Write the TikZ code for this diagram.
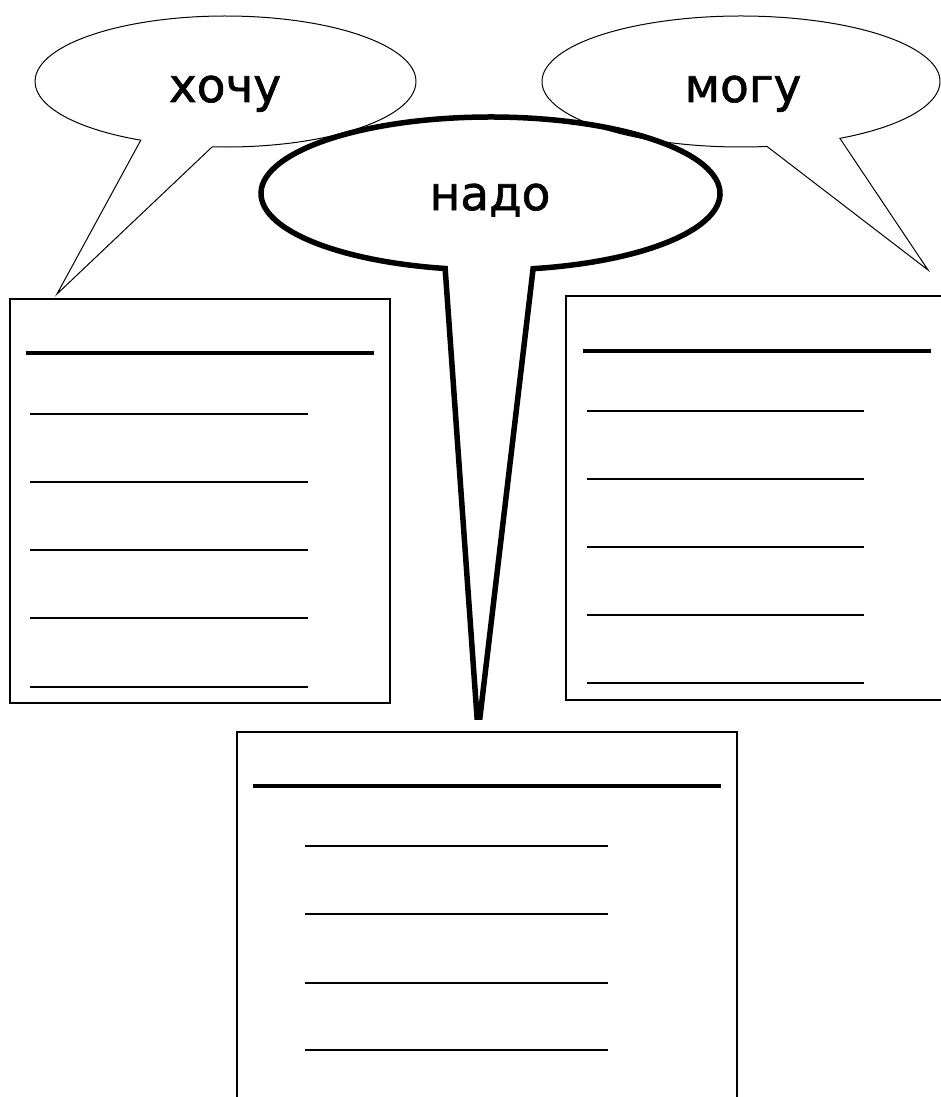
\documentclass[tikz,border=0pt]{standalone}
\usepackage{fontspec}
\newfontfamily\bubblefont[BoldFont={DejaVu Sans},BoldFeatures={FakeBold=1.3}]{DejaVu Sans}
\begin{document}
\begin{tikzpicture}[x=1pt,y=-1pt,
  thinbubble/.style={draw=black,line width=1pt,line join=miter},
  thickbubble/.style={draw=black,line width=5.5pt,line join=miter},
  boxline/.style={draw=black,line width=1.6pt},
  headrule/.style={draw=black,line width=4pt},
  writeline/.style={draw=black,line width=1.1pt},
  word/.style={font=\bubblefont\bfseries\fontsize{47}{50}\selectfont,anchor=base,inner sep=0pt}]
\useasboundingbox (0,0) rectangle (940,1097);

% left callout (хочу)
\coordinate (lc) at (225.5,81.5);
\coordinate (ltip) at (57,294);
\draw[thinbubble] (lc) ++(266:190.5 and -65.5)
  arc[start angle=266,end angle=603.6,x radius=190.5,y radius=-65.5]
  -- (ltip) -- cycle;
\node[word] (want) at (225,102) {хочу};

% right callout (могу)
\coordinate (rc) at (741,81.5);
\coordinate (rtip) at (928,270);
\draw[thinbubble] (rc) ++(299.8:199 and -65.5)
  arc[start angle=299.8,end angle=637.5,x radius=199,y radius=-65.5]
  -- (rtip) -- cycle;
\node[word] (can) at (743,102) {могу};

% middle callout (надо)
\coordinate (mc) at (490.5,193.5);
\coordinate (mtipl) at (477,717);
\coordinate (mtipr) at (480,717);
\draw[thickbubble] (mc) ++(280.7:229.5 and -76.5)
  arc[start angle=280.7,end angle=618.6,x radius=229.5,y radius=-76.5]
  -- (mtipl) -- (mtipr) -- cycle;
\node[word] (must) at (490,210) {надо};

% left box
\draw[boxline] (10,299) rectangle (390,703);
\draw[headrule] (26,353) -- (374,353);
\foreach \y in {414,482,550,618,687} \draw[writeline] (30,\y) -- (308,\y);

% right box (runs off the right edge)
\draw[boxline] (945,296) -- (566,296) -- (566,700) -- (945,700);
\draw[headrule] (583,351) -- (931,351);
\foreach \y in {411,479,547,615,683} \draw[writeline] (587,\y) -- (864,\y);

% bottom box (runs off the bottom edge)
\draw[boxline] (237,1100) -- (237,732) -- (737,732) -- (737,1100);
\draw[headrule] (253,786) -- (721,786);
\foreach \y in {846,914,983,1050} \draw[writeline] (305,\y) -- (608,\y);
\end{tikzpicture}
\end{document}
